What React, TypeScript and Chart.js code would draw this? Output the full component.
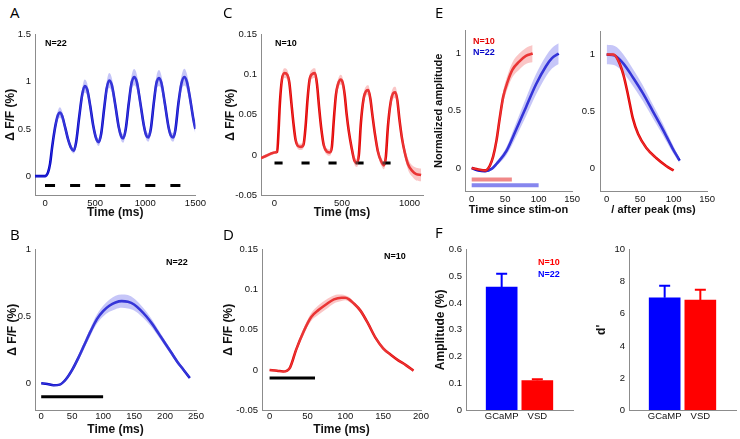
import React, { useEffect, useRef } from 'react';
import { Chart, registerables } from 'chart.js';

Chart.register(...registerables);

// ---------------- data ----------------
// Panel A: GCaMP, repeated stimulation
const aTime = [-100, 0, 10, 30, 50, 70, 90, 110, 130, 148, 170, 200, 230, 260, 286, 310, 340, 370, 395, 420, 450, 480, 510, 534, 560, 590, 615, 640, 665, 700, 735, 760, 779, 805, 835, 860, 888, 915, 950, 985, 1010, 1030, 1055, 1085, 1110, 1135, 1160, 1195, 1230, 1255, 1277, 1300, 1330, 1360, 1389, 1415, 1450, 1480, 1500];
const aMean = [0, 0, 0.005, 0.04, 0.13, 0.3, 0.45, 0.57, 0.65, 0.675, 0.64, 0.52, 0.39, 0.3, 0.27, 0.36, 0.62, 0.86, 0.955, 0.92, 0.75, 0.54, 0.4, 0.36, 0.45, 0.72, 0.93, 1.015, 0.97, 0.76, 0.52, 0.42, 0.4, 0.5, 0.77, 0.97, 1.05, 1.0, 0.78, 0.54, 0.43, 0.41, 0.5, 0.78, 0.98, 1.04, 0.99, 0.77, 0.53, 0.43, 0.41, 0.49, 0.77, 0.98, 1.05, 1.0, 0.8, 0.6, 0.5];
const aSem = [0.003, 0.003, 0.005, 0.01, 0.02, 0.03, 0.04, 0.05, 0.05, 0.055, 0.05, 0.04, 0.035, 0.03, 0.03, 0.04, 0.05, 0.06, 0.07, 0.065, 0.055, 0.045, 0.04, 0.04, 0.045, 0.06, 0.07, 0.08, 0.075, 0.06, 0.05, 0.045, 0.045, 0.05, 0.065, 0.075, 0.085, 0.08, 0.065, 0.05, 0.045, 0.045, 0.05, 0.065, 0.075, 0.085, 0.08, 0.065, 0.05, 0.045, 0.045, 0.05, 0.065, 0.08, 0.09, 0.085, 0.07, 0.06, 0.055];
const aStimOn = [0, 250, 500, 750, 1000, 1250];
const aStimOff = [100, 350, 600, 850, 1100, 1350];
const aStimLevel = -0.1;
const aXTicks = [0, 500, 1000, 1500];
const aYTicks = [0, 0.5, 1, 1.5];

// Panel C: VSD, repeated stimulation
const cTime = [-100, -60, -20, 0, 20, 30, 40, 55, 75, 95, 110, 125, 140, 155, 175, 195, 215, 230, 245, 260, 280, 300, 315, 330, 345, 365, 390, 410, 425, 440, 455, 470, 490, 505, 520, 535, 550, 570, 590, 610, 625, 640, 660, 680, 695, 710, 725, 745, 765, 790, 810, 825, 840, 860, 880, 895, 910, 925, 945, 965, 990, 1020, 1050, 1086];
const cMean = [-0.004, -0.001, 0.002, 0.003, 0.004, 0.03, 0.065, 0.094, 0.102, 0.1, 0.09, 0.065, 0.04, 0.02, 0.011, 0.01, 0.013, 0.035, 0.07, 0.094, 0.101, 0.102, 0.088, 0.06, 0.035, 0.012, 0.004, 0.003, 0.01, 0.045, 0.075, 0.088, 0.094, 0.09, 0.075, 0.05, 0.03, 0.01, -0.006, -0.01, 0.0, 0.04, 0.07, 0.08, 0.081, 0.07, 0.05, 0.025, 0.005, -0.008, -0.013, -0.002, 0.035, 0.065, 0.077, 0.078, 0.068, 0.045, 0.02, 0.003, -0.012, -0.02, -0.024, -0.025];
const cSem = [0.002, 0.002, 0.002, 0.002, 0.002, 0.003, 0.004, 0.005, 0.006, 0.006, 0.005, 0.005, 0.004, 0.004, 0.004, 0.004, 0.004, 0.004, 0.005, 0.006, 0.006, 0.006, 0.005, 0.005, 0.004, 0.004, 0.004, 0.004, 0.004, 0.005, 0.006, 0.006, 0.006, 0.006, 0.005, 0.005, 0.004, 0.004, 0.005, 0.005, 0.005, 0.005, 0.006, 0.006, 0.006, 0.006, 0.005, 0.005, 0.005, 0.005, 0.005, 0.005, 0.006, 0.007, 0.007, 0.007, 0.007, 0.006, 0.006, 0.006, 0.007, 0.007, 0.008, 0.008];
const cStimOn = [0, 200, 400, 600, 800];
const cStimOff = [60, 260, 460, 660, 860];
const cStimLevel = -0.01;
const cXTicks = [0, 500, 1000];
const cYTicks = [-0.05, 0, 0.05, 0.1, 0.15];

// Panel B: GCaMP, single stimulus
const bTime = [0, 10, 20, 30, 40, 50, 60, 70, 80, 90, 100, 110, 120, 130, 140, 150, 160, 170, 180, 190, 200, 210, 220, 230, 240];
const bMean = [0, -0.005, -0.015, -0.01, 0.03, 0.1, 0.19, 0.29, 0.39, 0.48, 0.54, 0.58, 0.605, 0.615, 0.61, 0.59, 0.55, 0.5, 0.44, 0.37, 0.3, 0.23, 0.16, 0.1, 0.04];
const bSem = [0.004, 0.004, 0.005, 0.006, 0.01, 0.015, 0.02, 0.025, 0.03, 0.035, 0.04, 0.045, 0.05, 0.05, 0.05, 0.045, 0.04, 0.035, 0.03, 0.025, 0.02, 0.018, 0.015, 0.012, 0.01];
const bStimOn = [0];
const bStimOff = [100];
const bStimLevel = -0.1;
const bXTicks = [0, 50, 100, 150, 200, 250];
const bYTicks = [0, 0.5, 1];

// Panel D: VSD, single stimulus
const dTime = [0, 10, 18, 27, 35, 45, 55, 65, 75, 85, 95, 100, 105, 110, 120, 130, 140, 150, 160, 170, 180, 190];
const dMean = [0, -0.001, -0.002, 0.003, 0.025, 0.048, 0.066, 0.075, 0.082, 0.088, 0.09, 0.09, 0.088, 0.084, 0.074, 0.058, 0.04, 0.027, 0.019, 0.012, 0.006, -0.001];
const dSem = [0.001, 0.001, 0.001, 0.002, 0.003, 0.004, 0.005, 0.006, 0.006, 0.005, 0.004, 0.003, 0.003, 0.002, 0.002, 0.002, 0.002, 0.002, 0.001, 0.001, 0.001, 0.001];
const dStimOn = [0];
const dStimOff = [60];
const dStimLevel = -0.01;
const dXTicks = [0, 50, 100, 150, 200];
const dYTicks = [-0.05, 0, 0.05, 0.1, 0.15];

// Panel E: normalized rise (since stim-on) and decay (after peak)
const eRiseTimeVsd = [0, 10, 20, 27, 32, 37, 42, 47, 54, 61, 71, 81, 91];
const eRiseMeanVsd = [0, -0.012, -0.02, 0.02, 0.1, 0.24, 0.44, 0.62, 0.76, 0.86, 0.93, 0.98, 1.0];
const eRiseSemVsd = [0.005, 0.005, 0.006, 0.01, 0.02, 0.03, 0.04, 0.05, 0.06, 0.065, 0.07, 0.07, 0.075];
const eRiseTimeGc = [0, 10, 20, 30, 39, 52, 66, 81, 96, 111, 120, 130];
const eRiseMeanGc = [0, -0.02, -0.026, -0.006, 0.05, 0.15, 0.33, 0.53, 0.73, 0.89, 0.96, 1.0];
const eRiseSemGc = [0.005, 0.006, 0.008, 0.012, 0.02, 0.035, 0.06, 0.08, 0.09, 0.09, 0.09, 0.09];
const eDecayTimeVsd = [0, 10, 17, 25, 32, 39, 47, 59, 74, 89, 100];
const eDecayMeanVsd = [1.0, 1.0, 0.95, 0.82, 0.64, 0.44, 0.3, 0.18, 0.09, 0.02, -0.02];
const eDecaySemVsd = [0.01, 0.015, 0.015, 0.015, 0.012, 0.01, 0.01, 0.008, 0.005, 0.005, 0.004];
const eDecayTimeGc = [0, 12, 25, 39, 54, 69, 84, 98, 109];
const eDecayMeanGc = [1.0, 0.99, 0.92, 0.8, 0.66, 0.5, 0.34, 0.18, 0.066];
const eDecaySemGc = [0.085, 0.085, 0.08, 0.075, 0.07, 0.06, 0.05, 0.035, 0.02];
const eStimVsd = [0, 60];
const eStimVsdLevel = -0.1;
const eStimGc = [0, 100];
const eStimGcLevel = -0.15;
const eXTicks = [0, 50, 100, 150];
const eYTicks = [0, 0.5, 1];

// Panel F: amplitude and d'
const fCats = ['GCaMP', 'VSD'];
const fAmpMean = [0.46, 0.11];
const fAmpSem = [0.05, 0.005];
const fDMean = [7.0, 6.85];
const fDSem = [0.75, 0.65];
const fAmpTicks = [0, 0.1, 0.2, 0.3, 0.4, 0.5, 0.6];
const fDTicks = [0, 2, 4, 6, 8, 10];

// ---------------- styles ----------------
const FONT = '"Liberation Sans", Arial, Helvetica, sans-serif';
const AXIS = '#8c8c8c';
const TICK = '#111';
const BLUE = '#0606c8';
const RED = '#e40606';
const BLUE_BAND = 'rgba(120,120,238,0.42)';
const RED_BAND = 'rgba(243,120,120,0.42)';
const BAR_BLUE = '#0000ff';
const BAR_RED = '#ff0000';
const E_RED = '#f08888';
const E_BLUE = '#8686ee';

type Geom = { l: number; t: number; r: number; b: number; W: number; H: number; pt: number; pr: number };

const gA: Geom = { l: 35, t: 33, r: 197, b: 195, W: 32, H: 25, pt: 8, pr: 12 };
const gC: Geom = { l: 261, t: 33, r: 423, b: 195, W: 38, H: 25, pt: 8, pr: 12 };
const gEL: Geom = { l: 465, t: 29, r: 573, b: 191, W: 33, H: 26, pt: 8, pr: 10 };
const gER: Geom = { l: 600, t: 29, r: 708, b: 191, W: 24, H: 26, pt: 8, pr: 10 };
const gB: Geom = { l: 35, t: 248, r: 196, b: 410, W: 30, H: 27, pt: 8, pr: 12 };
const gD: Geom = { l: 262, t: 248, r: 421, b: 410, W: 41, H: 27, pt: 8, pr: 12 };
const gFL: Geom = { l: 466, t: 248, r: 573, b: 410, W: 33, H: 20, pt: 8, pr: 4 };
const gFR: Geom = { l: 629, t: 248, r: 736, b: 410, W: 35, H: 20, pt: 8, pr: 4 };

// ---------------- helpers ----------------
const smooth = { tension: 0.4, cubicInterpolationMode: 'monotone' as const };

function band(t: number[], m: number[], s: number[], color: string) {
  return [
    { data: t.map((x, i) => ({ x, y: m[i] + s[i] })), borderWidth: 0, borderColor: 'transparent', pointRadius: 0, fill: false, ...smooth },
    { data: t.map((x, i) => ({ x, y: m[i] - s[i] })), borderWidth: 0, borderColor: 'transparent', pointRadius: 0, fill: '-1', backgroundColor: color, ...smooth },
  ];
}

function meanLine(t: number[], m: number[], color: string, width = 2.6) {
  return { data: t.map((x, i) => ({ x, y: m[i] })), borderColor: color, borderWidth: width, pointRadius: 0, fill: false, ...smooth };
}

function stimLine(on: number[], off: number[], level: number, color: string, width: number) {
  const data = on.flatMap((s, i) => [{ x: s, y: level }, { x: off[i], y: level }, { x: off[i], y: null as any }]);
  return { data, borderColor: color, borderWidth: width, pointRadius: 0, fill: false, tension: 0, borderCapStyle: 'butt' as const };
}

function linAxis(ticks: number[], min: number, max: number, isX: boolean, g: Geom, title: string, titleSize: number, pad: number) {
  return {
    type: 'linear',
    min,
    max,
    afterBuildTicks: (s: any) => { s.ticks = ticks.map((v) => ({ value: v })); },
    afterFit: (s: any) => { if (isX) s.height = g.H; else s.width = g.W; },
    grid: { display: false, drawTicks: false },
    border: { display: true, color: AXIS, width: 1 },
    ticks: { font: { family: FONT, size: 9.5 }, color: TICK, padding: pad, maxRotation: 0, minRotation: 0, autoSkip: false, callback: (v: any) => String(v) },
    title: { display: !!title, text: title, font: { family: FONT, size: titleSize, weight: 'bold' }, color: '#111', padding: 0 },
  };
}

function baseOptions(g: Geom, scales: any, extraPlugins: any = {}) {
  return {
    responsive: false,
    animation: false,
    events: [],
    layout: { padding: { left: 0, top: g.pt, right: g.pr, bottom: 0 } },
    plugins: { legend: { display: false }, tooltip: { enabled: false }, ...extraPlugins },
    scales,
  };
}

function lineChart(g: Geom, datasets: any[], x: [number[], number, number, string, number, number], y: [number[], number, number, string, number, number]) {
  return {
    type: 'line',
    data: { datasets },
    options: baseOptions(g, {
      x: linAxis(x[0], x[1], x[2], true, g, x[3], x[4], x[5]),
      y: linAxis(y[0], y[1], y[2], false, g, y[3], y[4], y[5]),
    }),
  };
}

const errorBarPlugin = {
  id: 'errbars',
  afterDatasetsDraw(chart: any, _args: any, opts: any) {
    const { ctx, scales } = chart;
    const xs = scales.x;
    const ys = scales.y;
    ctx.save();
    opts.means.forEach((m: number, i: number) => {
      const px = xs.getPixelForValue(i + 1);
      const y0 = ys.getPixelForValue(m);
      const y1 = ys.getPixelForValue(m + opts.sems[i]);
      ctx.strokeStyle = opts.colors[i];
      ctx.lineWidth = 2;
      ctx.beginPath();
      ctx.moveTo(px, y0);
      ctx.lineTo(px, y1);
      ctx.moveTo(px - 5.5, y1);
      ctx.lineTo(px + 5.5, y1);
      ctx.stroke();
    });
    ctx.restore();
  },
};

function barChart(g: Geom, means: number[], sems: number[], yTicks: number[], yMax: number, yTitle: string) {
  const colors = [BAR_BLUE, BAR_RED];
  return {
    type: 'bar',
    data: {
      labels: ['', ...fCats, ''],
      datasets: [{ data: [null, ...means, null], backgroundColor: ['#fff', ...colors, '#fff'], barThickness: 31, borderWidth: 0 }],
    },
    options: baseOptions(g, {
      x: {
        type: 'category',
        offset: false,
        afterFit: (s: any) => { s.height = g.H; },
        grid: { display: false, drawTicks: false },
        border: { display: true, color: AXIS, width: 1 },
        ticks: { font: { family: FONT, size: 9.5 }, color: TICK, padding: 1, maxRotation: 0, minRotation: 0, autoSkip: false },
      },
      y: linAxis(yTicks, 0, yMax, false, g, yTitle, 12, 4),
    }, { errbars: { means, sems, colors } }),
    plugins: [errorBarPlugin],
  };
}

// ---------------- chart configs ----------------
const cfgA = lineChart(gA, [
  ...band(aTime, aMean, aSem, BLUE_BAND),
  stimLine(aStimOn, aStimOff, aStimLevel, '#000', 3),
  meanLine(aTime, aMean, BLUE),
], [aXTicks, -100, 1500, 'Time (ms)', 12, 3], [aYTicks, -0.2, 1.5, 'Δ F/F (%)', 12, 4]);

const cfgC = lineChart(gC, [
  ...band(cTime, cMean, cSem, RED_BAND),
  stimLine(cStimOn, cStimOff, cStimLevel, '#000', 3),
  meanLine(cTime, cMean, RED),
], [cXTicks, -100, 1100, 'Time (ms)', 12, 3], [cYTicks, -0.05, 0.15, 'Δ F/F (%)', 12, 4]);

const cfgB = lineChart(gB, [
  ...band(bTime, bMean, bSem, BLUE_BAND),
  stimLine(bStimOn, bStimOff, bStimLevel, '#000', 3),
  meanLine(bTime, bMean, BLUE),
], [bXTicks, -10, 250, 'Time (ms)', 12, 1], [bYTicks, -0.2, 1, 'Δ F/F (%)', 12, 4]);

const cfgD = lineChart(gD, [
  ...band(dTime, dMean, dSem, RED_BAND),
  stimLine(dStimOn, dStimOff, dStimLevel, '#000', 3),
  meanLine(dTime, dMean, RED),
], [dXTicks, -10, 200, 'Time (ms)', 12, 1], [dYTicks, -0.05, 0.15, 'Δ F/F (%)', 12, 4]);

const cfgEL = lineChart(gEL, [
  stimLine([eStimVsd[0]], [eStimVsd[1]], eStimVsdLevel, E_RED, 4),
  stimLine([eStimGc[0]], [eStimGc[1]], eStimGcLevel, E_BLUE, 4),
  ...band(eRiseTimeVsd, eRiseMeanVsd, eRiseSemVsd, RED_BAND),
  meanLine(eRiseTimeVsd, eRiseMeanVsd, RED),
  ...band(eRiseTimeGc, eRiseMeanGc, eRiseSemGc, BLUE_BAND),
  meanLine(eRiseTimeGc, eRiseMeanGc, BLUE),
], [eXTicks, -10, 150, 'Time since stim-on', 11, 3], [eYTicks, -0.2, 1.2, 'Normalized amplitude', 11, 4]);

const cfgER = lineChart(gER, [
  ...band(eDecayTimeVsd, eDecayMeanVsd, eDecaySemVsd, RED_BAND),
  meanLine(eDecayTimeVsd, eDecayMeanVsd, RED),
  ...band(eDecayTimeGc, eDecayMeanGc, eDecaySemGc, BLUE_BAND),
  meanLine(eDecayTimeGc, eDecayMeanGc, BLUE),
], [eXTicks, -10, 150, '/ after peak (ms)', 11, 3], [eYTicks, -0.2, 1.2, '', 11, 5]);

const cfgFL = barChart(gFL, fAmpMean, fAmpSem, fAmpTicks, 0.6, 'Amplitude (%)');
const cfgFR = barChart(gFR, fDMean, fDSem, fDTicks, 10, "d'");

// ---------------- components ----------------
function Panel({ g, config }: { g: Geom; config: any }) {
  const ref = useRef<HTMLCanvasElement>(null);
  const w = g.r - g.l + g.W + g.pr;
  const h = g.b - g.t + g.pt + g.H;
  useEffect(() => {
    const chart = new Chart(ref.current as HTMLCanvasElement, config);
    return () => chart.destroy();
  }, []);
  return (
    <canvas
      ref={ref}
      width={w}
      height={h}
      style={{ position: 'absolute', left: g.l - g.W, top: g.t - g.pt, width: w, height: h }}
    />
  );
}

function Label({ text, x, cy, color = '#000', size = 9, weight = 700 }: { text: string; x: number; cy: number; color?: string; size?: number; weight?: number }) {
  return (
    <div style={{ position: 'absolute', left: x, top: cy - 6, height: 12, lineHeight: '12px', fontFamily: FONT, fontSize: size, fontWeight: weight, color, whiteSpace: 'nowrap' }}>
      {text}
    </div>
  );
}

function Letter({ text, x, capTop }: { text: string; x: number; capTop: number }) {
  return (
    <div style={{ position: 'absolute', left: x, top: capTop - 2.7, height: 15, lineHeight: '15px', fontFamily: '"Open Sans", sans-serif', fontSize: 15, fontWeight: 400, color: '#000' }}>
      {text}
    </div>
  );
}

export default function App() {
  return (
    <div style={{ position: 'absolute', left: 0, top: 0, width: 740, height: 439, overflow: 'hidden', background: '#fff' }}>
      <Panel g={gA} config={cfgA} />
      <Panel g={gC} config={cfgC} />
      <Panel g={gEL} config={cfgEL} />
      <Panel g={gER} config={cfgER} />
      <Panel g={gB} config={cfgB} />
      <Panel g={gD} config={cfgD} />
      <Panel g={gFL} config={cfgFL} />
      <Panel g={gFR} config={cfgFR} />

      <Letter text="A" x={10} capTop={8} />
      <Letter text="C" x={223} capTop={8} />
      <Letter text="E" x={435} capTop={8} />
      <Letter text="B" x={10} capTop={230} />
      <Letter text="D" x={223} capTop={230} />
      <Letter text="F" x={435} capTop={228} />

      <Label text="N=22" x={45} cy={43} />
      <Label text="N=10" x={275} cy={43} />
      <Label text="N=10" x={473} cy={41} color={RED} />
      <Label text="N=22" x={473} cy={52} color={BLUE} />
      <Label text="N=22" x={166} cy={262} />
      <Label text="N=10" x={384} cy={256} />
      <Label text="N=10" x={538} cy={262} color={BAR_RED} />
      <Label text="N=22" x={538} cy={274} color={BAR_BLUE} />
    </div>
  );
}
